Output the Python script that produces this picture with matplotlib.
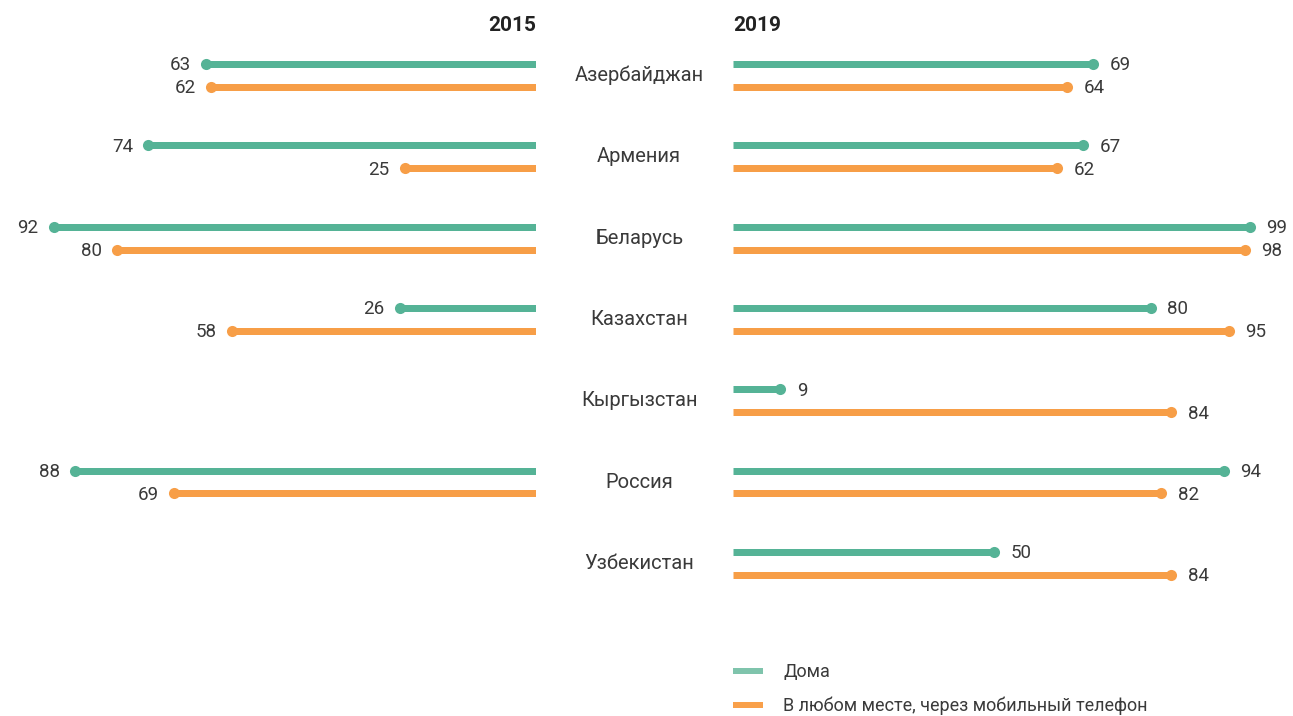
import matplotlib.pyplot as plt
from matplotlib.lines import Line2D
import numpy as np

plt.rcParams['font.family'] = ['Roboto', 'DejaVu Sans']

countries = ["Азербайджан", "Армения", "Беларусь", "Казахстан",
             "Кыргызстан", "Россия", "Узбекистан"]
home_2015 = [63, 74, 92, 26, np.nan, 88, np.nan]
mobile_2015 = [62, 25, 80, 58, np.nan, 69, np.nan]
home_2019 = [69, 67, 99, 80, 9, 94, 50]
mobile_2019 = [64, 62, 98, 95, 84, 82, 84]
years = ["2015", "2019"]
series_names = ["Дома", "В любом месте, через мобильный телефон"]

GREEN = "#55b396"
ORANGE = "#f79e47"
TXT = "#3a3a3a"

W, H = 1293, 716
fig = plt.figure(figsize=(W / 100, H / 100), dpi=100)

# each panel spans 100 units = 524 px, rows are 81.3 px apart
ax_l = fig.add_axes([12 / W, 0, 524 / W, 1])
ax_r = fig.add_axes([733 / W, 0, 522 / W, 1])
row_px = 81.3
y_top = -75.5 / row_px
y_bot = (H - 75.5) / row_px
off = 11.5 / row_px

ax_l.set_xlim(100, 0)
ax_r.set_xlim(0, 100)
for ax in (ax_l, ax_r):
    ax.set_ylim(y_bot, y_top)
    ax.axis('off')

ypos = np.arange(len(countries))
lw = 7 * 72 / 100


def draw(ax, vals, y, color, side):
    vals = np.array(vals, dtype=float)
    ok = ~np.isnan(vals)
    ax.hlines(y[ok], 0, vals[ok], color=color, lw=lw, capstyle='butt')
    ax.scatter(vals[ok], y[ok], s=64, color=color, zorder=3, clip_on=False,
               linewidths=0)
    dx, ha = (-11, 'right') if side == "left" else (12, 'left')
    for v, yy in zip(vals[ok], y[ok]):
        ax.annotate(f"{v:.0f}", (v, yy), xytext=(dx, -1),
                    textcoords='offset points', ha=ha, va='center',
                    fontsize=13.5, color=TXT)


draw(ax_l, home_2015, ypos - off, GREEN, "left")
draw(ax_l, mobile_2015, ypos + off, ORANGE, "left")
draw(ax_r, home_2019, ypos - off, GREEN, "right")
draw(ax_r, mobile_2019, ypos + off, ORANGE, "right")

ax_l.text(0, -0.62, years[0], ha='right', va='center', fontsize=15,
          fontweight='bold', color="#222222")
ax_r.text(0, -0.62, years[1], ha='left', va='center', fontsize=15,
          fontweight='bold', color="#222222")

for i, c in enumerate(countries):
    ax_r.text(-18.0, i, c, ha='center', va='center', fontsize=14.5,
              color=TXT)

handles = [Line2D([], [], color="#7fc4ac", lw=6 * 72 / 100),
           Line2D([], [], color="#f9a04a", lw=6 * 72 / 100)]
fig.legend(handles, series_names, loc='upper left',
           bbox_to_anchor=(720 / W, 1 - 647 / H), frameon=False,
           prop={'size': 13}, handlelength=1.3,
           handletextpad=1.3, labelspacing=0.85, labelcolor=TXT)

fig.savefig("out.png", dpi=100)
